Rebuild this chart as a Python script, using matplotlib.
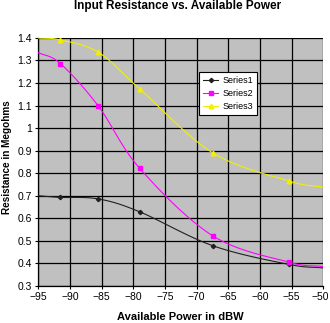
import numpy as np
import matplotlib
matplotlib.use("Agg")
import matplotlib.pyplot as plt
import matplotlib.transforms as mtransforms
from matplotlib.lines import Line2D

plt.rcParams['font.family'] = ['Liberation Sans', 'DejaVu Sans']

# Data
power = [-95, -91.5, -85.5, -79, -67.5, -55.5, -50]
series1 = [0.700, 0.693, 0.686, 0.629, 0.479, 0.396, 0.380]
series2 = [1.335, 1.286, 1.097, 0.822, 0.523, 0.406, 0.386]
series3 = [1.400, 1.391, 1.336, 1.174, 0.891, 0.766, 0.738]
marker_idx = [1, 2, 3, 4, 5]   # points shown with markers
names = ['Series1', 'Series2', 'Series3']
colors = ['#202020', '#FF00FF', '#F0F000']
markers = ['D', 's', '^']
msizes = [2.2, 3.2, 3.4]
xticks = [-95, -90, -85, -80, -75, -70, -65, -60, -55, -50]
yticks = [0.3, 0.4, 0.5, 0.6, 0.7, 0.8, 0.9, 1.0, 1.1, 1.2, 1.3, 1.4]
yticklabels = ['0.3', '0.4', '0.5', '0.6', '0.7', '0.8', '0.9', '1', '1.1', '1.2', '1.3', '1.4']


def smooth(x, y, n=20):
    """Catmull-Rom curve through the given points (Excel-style smoothed line)."""
    x = np.asarray(x, float); y = np.asarray(y, float)
    P = np.column_stack([x, y])
    P = np.vstack([P[0] - (P[1] - P[0]), P, P[-1] + (P[-1] - P[-2])])
    out = []
    t = np.linspace(0, 1, n, endpoint=False)[:, None]
    for i in range(1, len(P) - 2):
        p0, p1, p2, p3 = P[i - 1], P[i], P[i + 1], P[i + 2]
        seg = 0.5 * ((2 * p1) + (-p0 + p2) * t + (2 * p0 - 5 * p1 + 4 * p2 - p3) * t ** 2
                     + (-p0 + 3 * p1 - 3 * p2 + p3) * t ** 3)
        out.append(seg)
    out.append(P[-2][None, :])
    out = np.vstack(out)
    return out[:, 0], out[:, 1]


fig = plt.figure(figsize=(3.30, 3.23), dpi=100)
ax = fig.add_axes([0.116, 0.1146, 0.864, 0.768])
ax.set_facecolor('#C0C0C0')

for ys, c, m, ms, nm in zip([series1, series2, series3], colors, markers, msizes, names):
    sx, sy = smooth(power, ys)
    ax.plot(sx, sy, color=c, lw=0.8, zorder=3)
    ax.plot([power[i] for i in marker_idx], [ys[i] for i in marker_idx], linestyle='none',
            marker=m, ms=ms, color=c, mec=c, zorder=4)

ax.set_xlim(-95, -50)
ax.set_ylim(0.3, 1.4)
ax.set_xticks(xticks)
ax.set_yticks(yticks)
ax.set_yticklabels(yticklabels)
ax.grid(True, color='black', lw=0.9)
ax.set_axisbelow(True)
ax.tick_params(axis='both', labelsize=7.5, length=2.5, width=0.8, color='black', pad=2)
for s in ['top', 'right']:
    ax.spines[s].set_visible(False)
for s in ['left', 'bottom']:
    ax.spines[s].set_color('black')
    ax.spines[s].set_linewidth(0.9)

# keep the last x tick label inside the figure edge
fig.canvas.draw()
last = ax.get_xticklabels()[-1]
last.set_transform(last.get_transform() +
                   mtransforms.ScaledTranslation(-3.5 / 100, 0, fig.dpi_scale_trans))

handles = [Line2D([], [], color=c, lw=0.8, marker=m, ms=ms, mec=c)
           for c, m, ms in zip(colors, markers, msizes)]
leg = ax.legend(handles, names, loc='upper left', bbox_to_anchor=(0.564, 0.862),
                fontsize=6.5, frameon=True, fancybox=False, edgecolor='black',
                framealpha=1, handlelength=1.7, handletextpad=0.4, labelspacing=0.45,
                borderpad=0.45, borderaxespad=0)
leg.get_frame().set_linewidth(0.8)

fig.text(0.538, 1 - 5.5 / 323, 'Input Resistance vs. Available Power', ha='center', va='center',
         fontsize=8.5, fontweight='bold')
fig.text(0.547, 1 - 317 / 323, 'Available Power in dBW', ha='center', va='center',
         fontsize=8, fontweight='bold')
fig.text(7 / 330, 1 - 157 / 323, 'Resistance in Megohms', ha='center', va='center',
         rotation=90, fontsize=7.2, fontweight='bold')

fig.savefig('out.png', dpi=100, facecolor='white')
